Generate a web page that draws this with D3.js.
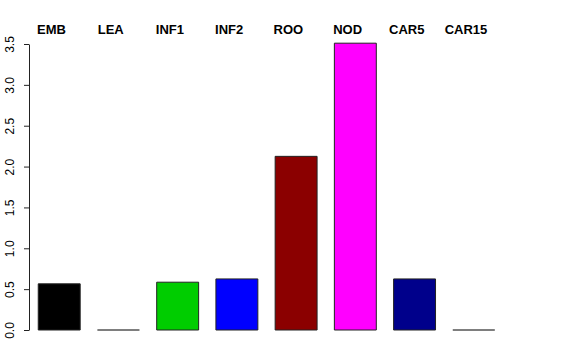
<!DOCTYPE html>
<html>
<head>
<meta charset="utf-8">
<script src="https://cdn.jsdelivr.net/npm/d3@7"></script>
<style>
  body { margin: 0; background: #fff; }
  svg { display: block; }
  .tick text { font-family: "Liberation Sans", Arial, sans-serif; font-size: 12px; fill: #000; }
  .lab { font-family: "Liberation Sans", Arial, sans-serif; font-size: 13px; font-weight: bold; }
</style>
</head>
<body>
<svg id="chart" width="576" height="360"></svg>
<script>
// tissues and their values
let categories = ["EMB", "LEA", "INF1", "INF2", "ROO", "NOD", "CAR5", "CAR15"];
let values = [0.565, 0, 0.585, 0.625, 2.125, 3.51, 0.625, 0];
let barColors = ["#000000", "#ffffff", "#00cd00", "#0000ff", "#8b0000", "#ff00ff", "#00008b", "#ffffff"];
let yTicks = [0, 0.5, 1, 1.5, 2, 2.5, 3, 3.5];

let svg = d3.select("#chart");

let x = d3.scaleBand()
          .domain(categories)
          .range([29.6, 503.4])
          .paddingInner(0.292)
          .paddingOuter(0.146);

let y = d3.scaleLinear()
          .domain([0, 3.5])
          .range([330, 44]);

// label positions along the top
let labelX = d3.scalePoint()
               .domain(categories)
               .range([51.5, 466]);

// bars, as paths so the empty ones still show their outline
svg.selectAll("path.bar")
   .data(categories)
   .enter()
   .append("path")
   .attr("class", "bar")
   .attr("d", function(d, i) {
       let x0 = x(d), x1 = x(d) + x.bandwidth();
       return "M" + x0 + "," + y(0) + "V" + y(values[i]) + "H" + x1 + "V" + y(0) + "Z";
   })
   .attr("fill", (d, i) => barColors[i])
   .attr("stroke", (d, i) => values[i] === 0 ? "#555" : "#222")
   .attr("stroke-width", 1);

// y axis
let yAxis = d3.axisLeft(y)
              .tickValues(yTicks)
              .tickFormat(d3.format(".1f"))
              .tickSize(5)
              .tickSizeOuter(0)
              .tickPadding(4);

let gy = svg.append("g")
            .attr("transform", "translate(29,0)")
            .call(yAxis);
gy.select(".domain").attr("stroke", "#222");
gy.selectAll(".tick line").attr("stroke", "#222");
gy.selectAll(".tick text")
  .attr("text-anchor", "middle")
  .attr("transform", "rotate(-90)")
  .attr("x", 0)
  .attr("y", -15)
  .attr("dy", "0");

// top labels
svg.selectAll("text.lab")
   .data(categories)
   .enter()
   .append("text")
   .attr("class", "lab")
   .attr("x", d => labelX(d))
   .attr("y", 34)
   .attr("text-anchor", "middle")
   .text(d => d);
</script>
</body>
</html>
